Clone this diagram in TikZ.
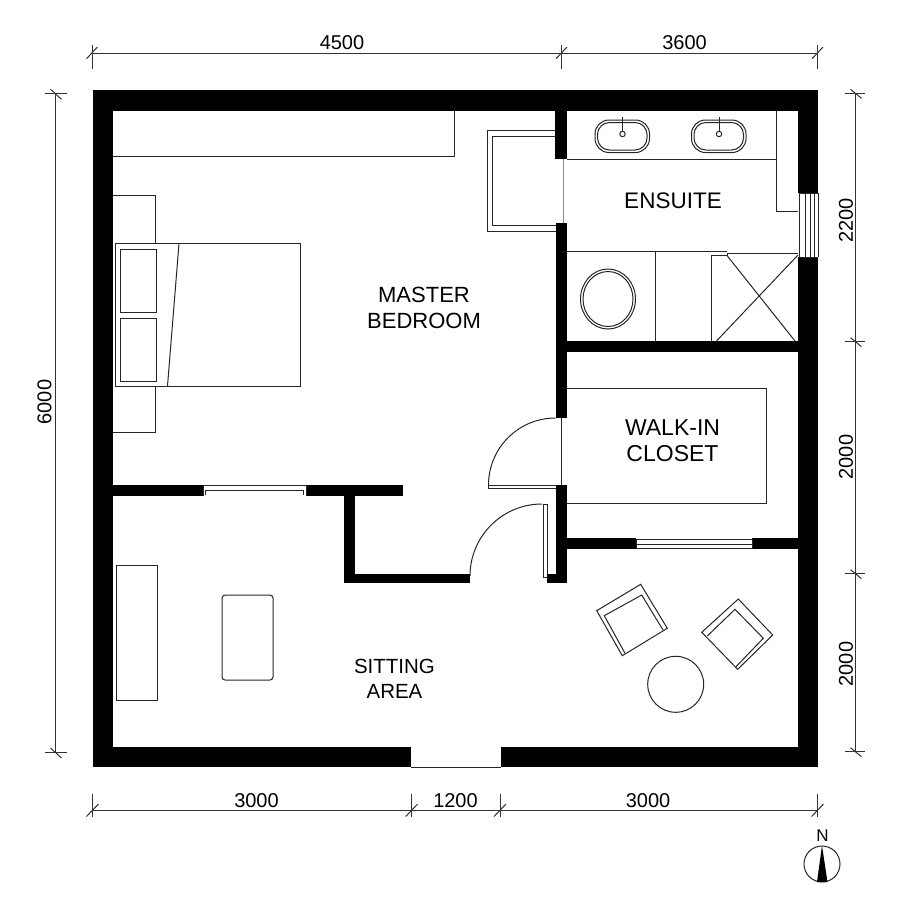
\documentclass[tikz,border=0pt]{standalone}
\usepackage{fontspec}
\setmainfont{Liberation Sans}
\usetikzlibrary{positioning,calc}
\tikzset{
  plan/.style={line width=1pt, black!85},
  wall/.style={fill=black, draw=none},
  dimline/.style={line width=1pt, black!80},
  roomlabel/.style={align=center, inner sep=0pt, font=\fontsize{22}{26}\selectfont},
  dimlabel/.style={inner sep=0pt, font=\fontsize{20}{24}\selectfont},
}
\begin{document}
\begin{tikzpicture}[x=1pt,y=-1pt]
    \def \minx {93}
    \def \maxx {818}
    \def \miny {90}
    \def \maxy {767}

    \useasboundingbox (0,0) rectangle (900,900);

    % walls
    \foreach \xa/\ya/\xb/\yb in {
      \minx/\miny/\maxx/110.5, \minx/\miny/113/\maxy, 798/\miny/\maxx/193, 798/257/\maxx/\maxy,
      \minx/747/410.5/\maxy, 500.5/747/\maxx/\maxy,
      555/\miny/567/159, 556/223/567/418, 556/484.5/567/583, 547/574/567/583,
      567/341/798/352, 567/538/636/549, 752/538/798/549,
      113/484.5/203/495.5, 306/484.5/403/495.5,
      343.5/495/355/583, 343.5/574/470/583}
     \fill[wall] (\xa,\ya) rectangle (\xb,\yb);

    % windows and openings
    \foreach \x in {799.3,805,810,814,818}
     \draw[plan] (\x,193) -- (\x,257);
    \draw[plan] (799,193) -- (818,193);
    \draw[plan] (799,257) -- (818,257);
    \draw[plan] (203,485) -- (306,485);
    \draw[plan] (203,485) -- (203,495.5);
    \draw[plan] (306,485) -- (306,495.5);
    \draw[plan] (205.5,495) |- (303,490.5) -- (303,495);
    \draw[plan] (636,539) rectangle (752,548.5);
    \draw[plan] (636,544) -- (752,544);
    \draw[plan] (410.5,767) -- (500.5,767);
    \draw[black!45, line width=1pt] (563.5,159) -- (563.5,223);
    \draw[plan] (561,418) -- (561,484.5);

    % doors
    \draw[plan] (556,488) -- (488,488) -- (488,485) -- (556,485);
    \draw[plan] (488.5,485) arc [start angle=180, end angle=270, radius=67];
    \draw[plan] (547,577) -- (543,577) -- (543,504.5) -- (547,504.5) -- (547,574);
    \draw[plan] (470,576) arc [start angle=180, end angle=270, radius=72];
    \draw[plan] (555,130.5) -- (487,130.5) -- (487,231.5) -- (556,231.5);
    \draw[plan] (555,136) -- (492.5,136) -- (492.5,225.5) -- (556,225.5);

    % ensuite
    \draw[plan] (567,159) -- (776,159);
    \draw[plan] (776,110.5) -- (776,211) -- (798,211);
    \draw[plan] (567,251.5) -- (727,251.5);
    \draw[plan] (655,251.5) -- (655,341);
    \draw[plan] (711.5,341) -- (711.5,255.5) -- (727,255.5) -- (727,253) -- (798,253);
    \draw[plan] (727,255.5) -- (795,341);
    \draw[plan] (798,255) -- (716.5,341);
    \foreach \x in {595,691.5} {
     \draw[plan, rounded corners=14pt] (\x,120) rectangle (\x+54.5,152.5);
     \draw[plan, rounded corners=12pt] (\x+2.5,122.5) rectangle (\x+52,150);
     \draw[plan, fill=white] (\x+27.5,134) circle [radius=2.7];
     \draw[plan] (\x+27.5,131) -- (\x+27.5,117);
    }
    \draw[plan] (608,299) ellipse [x radius=27.5, y radius=30];
    \draw[plan] (608,299) ellipse [x radius=25, y radius=27.5];

    % closet
    \draw[plan] (567,388.5) -- (766,388.5) -- (766,503) -- (567,503);

    % bedroom
    \draw[plan] (113,156) -- (454,156) -- (454,110.5);
    \draw[plan] (113,195.5) -- (155,195.5) -- (155,243.5);
    \draw[plan] (155,386) -- (155,432.5) -- (113,432.5);
    \draw[plan] (115.5,243.5) rectangle (300.5,386);
    \draw[plan] (179,243.5) -- (167.5,386);
    \draw[plan] (120,249) rectangle (156,312);
    \draw[plan] (120,318) rectangle (156,381);

    % sitting area
    \draw[plan] (116,565) rectangle (157,700);
    \draw[plan, rounded corners=3pt] (222,595) rectangle (273,680);
    \draw[plan] (675.7,684.3) circle [radius=28];
    \draw[plan] (640.7,584.3) -- (667.3,628.3) -- (622.3,655.7) -- (596.7,610.7) -- cycle;
    \draw[plan] (663,630) -- (641.7,595) -- (604.3,615.7) -- (625,653.3);
    \draw[plan] (738.3,599) -- (772.7,635) -- (737.7,669.3) -- (701.7,632.3) -- cycle;
    \draw[plan] (707.3,636) -- (735,609.3) -- (763.3,638.3) -- (736,666.7);

    % dimensions
    \draw[dimline] (92,53.7) -- (817.5,53.7);
    \draw[dimline] (92.5,810.7) -- (817.5,810.7);
    \draw[dimline] (55.7,93.3) -- (55.7,752);
    \draw[dimline] (855.7,93.3) -- (855.7,751.7);
    \foreach \x in {92,561.5,817.5} {
     \draw[dimline] (\x,44.5) -- (\x,68.5);
     \draw[dimline] (\x-5.5,58.7) -- (\x+5.5,47);
    }
    \foreach \x in {92.5,411.7,500,817.5} {
     \draw[dimline] (\x,794) -- (\x,817);
     \draw[dimline] (\x-6,816.5) -- (\x+6,804);
    }
    \foreach \y in {93.3,752} {
     \draw[dimline] (45,\y) -- (66.5,\y);
     \draw[dimline] (50.5,\y-4) -- (61.5,\y+6);
    }
    \foreach \y in {93.3,341.7,573.7,751.7} {
     \draw[dimline] (845,\y) -- (865,\y);
     \draw[dimline] (850.5,\y-4) -- (861.5,\y+5);
    }

    \node[dimlabel] (dimA) at (342,43) {4500};
    \node[dimlabel] (dimB) at (684.5,43) {3600};
    \node[dimlabel] (dimC) at (256.5,800.5) {3000};
    \node[dimlabel] (dimD) at (455.5,800.5) {1200};
    \node[dimlabel] (dimE) at (648,800.5) {3000};
    \node[dimlabel, rotate=90] (dimF) at (44.5,402) {6000};
    \node[dimlabel, rotate=90] (dimG) at (846,220.5) {2200};
    \node[dimlabel, rotate=90] (dimH) at (846,457) {2000};
    \node[dimlabel, rotate=90] (dimJ) at (846,664) {2000};

    \node[roomlabel] (master) at (424,308) {MASTER\\BEDROOM};
    \node[roomlabel, font=\fontsize{22.5}{26}\selectfont] (ensuite) at (673,201) {ENSUITE};
    \node[roomlabel, font=\fontsize{23}{26}\selectfont] (closet) at (672.5,441) {WALK-IN\\CLOSET};
    \node[roomlabel, font=\fontsize{20.5}{25}\selectfont] (sitting) at (394.5,678.5) {SITTING\\AREA};

    % north mark
    \draw[plan] (822,864) circle [radius=18];
    \fill (822,845.5) -- (827.5,882) -- (817,882) -- cycle;
    \node[inner sep=0pt, font=\fontsize{17}{20}\selectfont] (north) at (822.5,836) {N};
\end{tikzpicture}
\end{document}
